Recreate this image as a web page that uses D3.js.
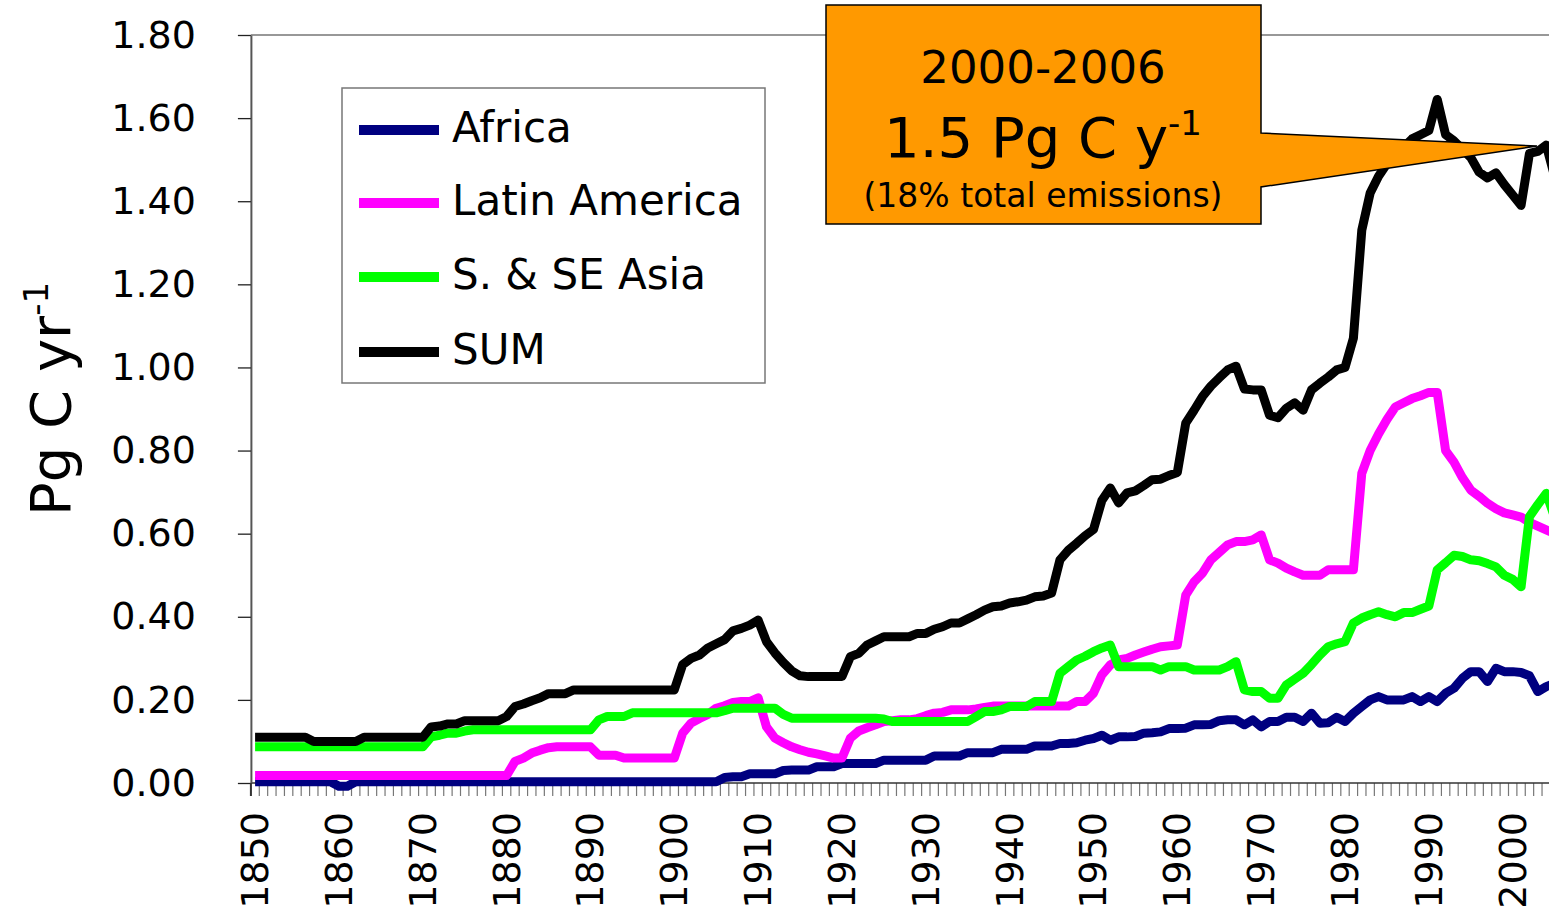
<!DOCTYPE html>
<html>
<head>
<meta charset="utf-8">
<script src="https://cdn.jsdelivr.net/npm/d3@7"></script>
<style>
  html, body { margin: 0; padding: 0; background: #ffffff; }
  svg { display: block; }
  text { font-family: "DejaVu Sans", "Noto Sans", sans-serif; fill: #000; }
</style>
</head>
<body>
<svg id="chart" width="1549" height="914"></svg>
<script>
// Annual carbon emissions from tropical land-use change, Pg C per year
const years = d3.range(1850, 2007);
const yearLabels = [1850, 1860, 1870, 1880, 1890, 1900, 1910, 1920, 1930, 1940, 1950, 1960, 1970, 1980, 1990, 2000];
const yTicks = [0, 0.2, 0.4, 0.6, 0.8, 1.0, 1.2, 1.4, 1.6, 1.8];
const seriesNames = ["Africa", "Latin America", "S. & SE Asia", "SUM"];
const seriesColors = ["#000080", "#ff00ff", "#00ff00", "#000000"];

const africa = [
  0.003, 0.003, 0.003, 0.003, 0.003, 0.003, 0.003, 0.003, 0.003, 0.003,
  -0.008, -0.008, 0.003, 0.003, 0.003, 0.003, 0.003, 0.003, 0.003, 0.003,
  0.003, 0.003, 0.003, 0.003, 0.003, 0.003, 0.003, 0.003, 0.003, 0.003,
  0.003, 0.003, 0.003, 0.003, 0.003, 0.003, 0.003, 0.003, 0.003, 0.003,
  0.003, 0.003, 0.003, 0.003, 0.003, 0.003, 0.003, 0.003, 0.003, 0.003,
  0.003, 0.003, 0.003, 0.003, 0.003, 0.003, 0.013, 0.015, 0.015, 0.022,
  0.022, 0.022, 0.022, 0.030, 0.031, 0.031, 0.031, 0.039, 0.039, 0.039,
  0.047, 0.047, 0.047, 0.047, 0.047, 0.055, 0.055, 0.055, 0.055, 0.055,
  0.055, 0.065, 0.065, 0.065, 0.065, 0.073, 0.073, 0.073, 0.073, 0.081,
  0.081, 0.081, 0.081, 0.089, 0.089, 0.089, 0.095, 0.095, 0.097, 0.103,
  0.107, 0.115, 0.103, 0.111, 0.111, 0.112, 0.120, 0.121, 0.123, 0.131,
  0.131, 0.132, 0.140, 0.140, 0.141, 0.150, 0.152, 0.152, 0.140, 0.152,
  0.135, 0.148, 0.148, 0.158, 0.158, 0.148, 0.168, 0.144, 0.145, 0.158,
  0.148, 0.168, 0.184, 0.200, 0.208, 0.200, 0.200, 0.200, 0.208, 0.196,
  0.208, 0.196, 0.216, 0.228, 0.252, 0.268, 0.268, 0.244, 0.276, 0.268,
  0.268, 0.266, 0.258, 0.220, 0.232, 0.240, 0.240
];

const latinAmerica = [
  0.018, 0.018, 0.018, 0.018, 0.018, 0.018, 0.018, 0.018, 0.018, 0.018,
  0.018, 0.018, 0.018, 0.018, 0.018, 0.018, 0.018, 0.018, 0.018, 0.018,
  0.018, 0.018, 0.018, 0.018, 0.018, 0.018, 0.018, 0.018, 0.018, 0.018,
  0.018, 0.052, 0.060, 0.072, 0.079, 0.085, 0.087, 0.087, 0.087, 0.087,
  0.087, 0.067, 0.067, 0.067, 0.060, 0.060, 0.060, 0.060, 0.060, 0.060,
  0.060, 0.120, 0.144, 0.155, 0.165, 0.180, 0.186, 0.194, 0.196, 0.196,
  0.205, 0.135, 0.108, 0.097, 0.087, 0.080, 0.074, 0.070, 0.065, 0.060,
  0.060, 0.108, 0.125, 0.133, 0.140, 0.148, 0.150, 0.152, 0.152, 0.155,
  0.162, 0.168, 0.170, 0.176, 0.176, 0.176, 0.178, 0.182, 0.185, 0.185,
  0.185, 0.185, 0.185, 0.185, 0.185, 0.185, 0.185, 0.185, 0.196, 0.196,
  0.216, 0.260, 0.284, 0.296, 0.300, 0.308, 0.315, 0.322, 0.328, 0.330,
  0.332, 0.452, 0.484, 0.505, 0.537, 0.555, 0.573, 0.581, 0.581, 0.585,
  0.597, 0.537, 0.529, 0.517, 0.508, 0.500, 0.500, 0.500, 0.513, 0.513,
  0.513, 0.513, 0.745, 0.800, 0.840, 0.875, 0.905, 0.915, 0.925, 0.932,
  0.940, 0.940, 0.800, 0.772, 0.735, 0.705, 0.690, 0.673, 0.660, 0.650,
  0.645, 0.640, 0.627, 0.618, 0.609, 0.600, 0.600
];

const southAsia = [
  0.087, 0.087, 0.087, 0.087, 0.087, 0.087, 0.087, 0.087, 0.087, 0.087,
  0.087, 0.087, 0.087, 0.087, 0.087, 0.087, 0.087, 0.087, 0.087, 0.087,
  0.087, 0.111, 0.115, 0.120, 0.120, 0.125, 0.128, 0.128, 0.128, 0.128,
  0.128, 0.128, 0.128, 0.128, 0.128, 0.128, 0.128, 0.128, 0.128, 0.128,
  0.128, 0.152, 0.160, 0.160, 0.160, 0.169, 0.169, 0.169, 0.169, 0.169,
  0.169, 0.169, 0.169, 0.169, 0.169, 0.169, 0.174, 0.180, 0.180, 0.180,
  0.180, 0.180, 0.180, 0.165, 0.156, 0.156, 0.156, 0.156, 0.156, 0.156,
  0.156, 0.156, 0.156, 0.156, 0.156, 0.154, 0.148, 0.148, 0.148, 0.148,
  0.148, 0.148, 0.148, 0.148, 0.148, 0.148, 0.160, 0.172, 0.172, 0.176,
  0.184, 0.184, 0.184, 0.196, 0.196, 0.196, 0.264, 0.280, 0.296, 0.305,
  0.316, 0.325, 0.332, 0.280, 0.280, 0.280, 0.280, 0.280, 0.272, 0.280,
  0.280, 0.280, 0.272, 0.272, 0.272, 0.272, 0.280, 0.292, 0.224, 0.220,
  0.220, 0.204, 0.204, 0.236, 0.250, 0.264, 0.285, 0.308, 0.328, 0.335,
  0.340, 0.385, 0.397, 0.405, 0.412, 0.405, 0.400, 0.410, 0.410, 0.418,
  0.426, 0.513, 0.530, 0.548, 0.545, 0.537, 0.535, 0.528, 0.520, 0.500,
  0.490, 0.472, 0.641, 0.670, 0.697, 0.640, 0.640
];

const total = [
  0.110, 0.110, 0.110, 0.110, 0.110, 0.110, 0.110, 0.100, 0.100, 0.100,
  0.100, 0.100, 0.100, 0.110, 0.110, 0.110, 0.110, 0.110, 0.110, 0.110,
  0.110, 0.135, 0.137, 0.142, 0.142, 0.150, 0.150, 0.150, 0.150, 0.150,
  0.160, 0.184, 0.190, 0.198, 0.205, 0.215, 0.215, 0.215, 0.224, 0.224,
  0.224, 0.224, 0.224, 0.224, 0.224, 0.224, 0.224, 0.224, 0.224, 0.224,
  0.224, 0.285, 0.300, 0.308, 0.325, 0.335, 0.345, 0.366, 0.372, 0.380,
  0.392, 0.340, 0.313, 0.290, 0.270, 0.258, 0.256, 0.256, 0.256, 0.256,
  0.256, 0.304, 0.312, 0.332, 0.342, 0.352, 0.352, 0.352, 0.352, 0.360,
  0.360, 0.370, 0.376, 0.385, 0.385, 0.395, 0.405, 0.416, 0.424, 0.426,
  0.433, 0.436, 0.440, 0.448, 0.450, 0.457, 0.537, 0.560, 0.577, 0.595,
  0.610, 0.680, 0.710, 0.674, 0.698, 0.703, 0.716, 0.730, 0.731, 0.740,
  0.747, 0.866, 0.897, 0.930, 0.955, 0.975, 0.994, 1.003, 0.948, 0.946,
  0.946, 0.885, 0.879, 0.902, 0.915, 0.897, 0.946, 0.962, 0.977, 0.994,
  1.000, 1.070, 1.330, 1.420, 1.460, 1.490, 1.510, 1.530, 1.550, 1.560,
  1.570, 1.645, 1.560, 1.545, 1.525, 1.505, 1.470, 1.456, 1.468, 1.440,
  1.415, 1.390, 1.515, 1.520, 1.535, 1.460, 1.460
];

const series = [africa, latinAmerica, southAsia, total];

const svg = d3.select("#chart");
svg.append("rect").attr("width", 1549).attr("height", 914).attr("fill", "#ffffff");

const plotLeft = 250.9, step = 8.384, plotTop = 35, plotBottom = 783;
const x = d3.scaleBand()
  .domain(years)
  .range([plotLeft, plotLeft + years.length * step])
  .padding(0);
const y = d3.scaleLinear().domain([0, 1.8]).range([plotBottom, plotTop]);
const xc = yr => x(yr) + x.bandwidth() / 2;

// top frame line of the plot area
svg.append("line")
  .attr("x1", plotLeft).attr("x2", x.range()[1])
  .attr("y1", y(1.8)).attr("y2", y(1.8))
  .attr("stroke", "#333").attr("stroke-width", 1.2);

// category boundary ticks under the x axis
const boundaries = years.map(yr => x(yr)).concat([x.range()[1]]);
svg.append("g").selectAll("line").data(boundaries).join("line")
  .attr("x1", d => d).attr("x2", d => d)
  .attr("y1", plotBottom).attr("y2", plotBottom + 13)
  .attr("stroke", "#777").attr("stroke-width", 1.2);

// x axis line
svg.append("line")
  .attr("x1", plotLeft).attr("x2", x.range()[1])
  .attr("y1", plotBottom).attr("y2", plotBottom)
  .attr("stroke", "#333").attr("stroke-width", 1.5);

// y axis
const yAxis = d3.axisLeft(y).tickValues(yTicks).tickFormat(d3.format(".2f"))
  .tickSize(13).tickSizeOuter(0).tickPadding(42);
const gy = svg.append("g").attr("transform", `translate(${plotLeft},0)`).call(yAxis);
gy.select(".domain").attr("stroke", "#555").attr("stroke-width", 2);
gy.selectAll(".tick line").attr("stroke", "#222").attr("stroke-width", 1.3);
gy.selectAll(".tick text")
  .attr("font-family", "DejaVu Sans, sans-serif")
  .attr("font-size", 38).attr("fill", "#000");
svg.append("line")
  .attr("x1", plotLeft).attr("x2", plotLeft)
  .attr("y1", plotBottom).attr("y2", plotBottom + 13)
  .attr("stroke", "#333").attr("stroke-width", 2);

// x labels every ten years, rotated
svg.append("g").selectAll("text").data(yearLabels).join("text")
  .attr("transform", d => `translate(${xc(d)},812) rotate(-90)`)
  .attr("text-anchor", "end")
  .attr("dominant-baseline", "central")
  .attr("font-size", 38)
  .text(d => d);

// y axis title
const yTitle = svg.append("text")
  .attr("transform", "translate(70,399) rotate(-90)")
  .attr("text-anchor", "middle")
  .attr("font-size", 56);
yTitle.append("tspan").text("Pg C yr");
yTitle.append("tspan").attr("font-size", 34).attr("dy", -22).text("-1");

// series lines
const line = d3.line()
  .x((d, i) => xc(years[i]))
  .y(d => y(d));
svg.append("g").selectAll("path").data(series).join("path")
  .attr("d", line)
  .attr("fill", "none")
  .attr("stroke", (d, i) => seriesColors[i])
  .attr("stroke-width", 9)
  .attr("stroke-linejoin", "round")
  .attr("stroke-linecap", "butt");

// legend
const legend = svg.append("g");
legend.append("rect")
  .attr("x", 342).attr("y", 88).attr("width", 423).attr("height", 295)
  .attr("fill", "#fff").attr("stroke", "#777").attr("stroke-width", 1.5);
const rowY = [130, 203, 277, 352];
seriesNames.forEach((name, i) => {
  legend.append("line")
    .attr("x1", 359).attr("x2", 439)
    .attr("y1", rowY[i]).attr("y2", rowY[i])
    .attr("stroke", seriesColors[i]).attr("stroke-width", 10);
  legend.append("text")
    .attr("x", 452).attr("y", rowY[i] + 12)
    .attr("font-size", 42)
    .text(name);
});

// callout
const callout = svg.append("g");
callout.append("path")
  .attr("d", "M826,5 H1261 V133 L1537,146 L1261,187 V224 H826 Z")
  .attr("fill", "#ff9900").attr("stroke", "#000").attr("stroke-width", 1.5)
  .attr("stroke-linejoin", "miter");
callout.append("text").attr("x", 1043).attr("y", 83)
  .attr("text-anchor", "middle").attr("font-size", 45).text("2000-2006");
const big = callout.append("text").attr("x", 1043).attr("y", 157)
  .attr("text-anchor", "middle").attr("font-size", 56);
big.append("tspan").text("1.5 Pg C y");
big.append("tspan").attr("font-size", 34).attr("dy", -22).text("-1");
callout.append("text").attr("x", 1043).attr("y", 207)
  .attr("text-anchor", "middle").attr("font-size", 33).text("(18% total emissions)");
</script>
</body>
</html>
